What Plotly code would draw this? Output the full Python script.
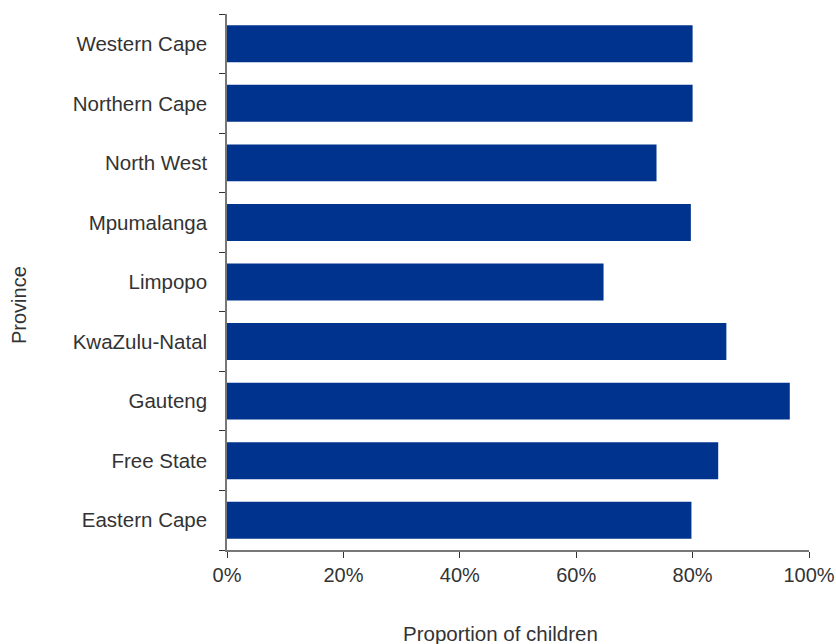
import plotly.graph_objects as go

provinces = ["Eastern Cape", "Free State", "Gauteng", "KwaZulu-Natal", "Limpopo",
             "Mpumalanga", "North West", "Northern Cape", "Western Cape"]
proportions = [79.8, 84.4, 96.7, 85.8, 64.7, 79.7, 73.8, 80.0, 80.0]
x_ticks = [0, 20, 40, 60, 80, 100]
x_tick_labels = ["0%", "20%", "40%", "60%", "80%", "100%"]

font_family = "Liberation Sans, Arial, sans-serif"
text_color = "#333333"

W, H = 836, 644
L, R, T, B = 227, 27, 14, 94

fig = go.Figure(go.Bar(
    x=proportions,
    y=provinces,
    orientation="h",
    marker=dict(color="#00338D", line=dict(width=0)),
))

fig.update_layout(
    width=W, height=H,
    margin=dict(l=L, r=R, t=T, b=B, autoexpand=False),
    plot_bgcolor="white", paper_bgcolor="white",
    bargap=0.38,
    showlegend=False,
    font=dict(family=font_family, size=20, color=text_color),
)

fig.update_xaxes(
    range=[0, 100], automargin=False,
    tickvals=x_ticks, ticktext=x_tick_labels,
    showgrid=False, zeroline=False,
    showline=True, linecolor="#777777", linewidth=1.5,
    ticks="outside", ticklen=6, tickcolor="#333333", tickwidth=1,
    tickfont=dict(size=20, color=text_color),
)

fig.update_yaxes(
    categoryorder="array", categoryarray=provinces, automargin=False,
    showgrid=False, zeroline=False,
    showline=True, linecolor="#777777", linewidth=1.5,
    ticks="outside", tickson="boundaries", ticklen=6, tickcolor="#333333", tickwidth=1,
    ticklabelstandoff=14,
    tickfont=dict(size=20.5, color=text_color),
)

plot_w = W - L - R
plot_h = H - T - B
fig.add_annotation(
    text="Proportion of children", showarrow=False,
    xref="paper", yref="paper",
    x=(500 - L) / plot_w, y=-(633 - (H - B)) / plot_h,
    xanchor="center", yanchor="middle",
    font=dict(size=20.5, color=text_color),
)
fig.add_annotation(
    text="Province", showarrow=False, textangle=-90,
    xref="paper", yref="paper",
    x=(19 - L) / plot_w, y=((H - B) - 305) / plot_h,
    xanchor="center", yanchor="middle",
    font=dict(size=20, color=text_color),
)

fig.write_html(
    "out.html",
    config={"displayModeBar": False},
    post_script="document.body.style.margin='0';document.body.style.overflow='hidden';",
)
